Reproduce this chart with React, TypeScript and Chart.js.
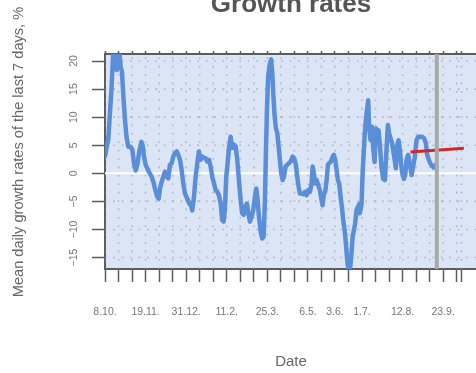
import React, { useEffect, useRef } from 'react';
import { Chart, registerables } from 'chart.js';

Chart.register(...registerables);

// Days since 8.10. (start of the x axis) and the read-off growth rates, %
const days = [
  0, 1.0, 2.1, 3.4, 5.2, 6.7, 8.6, 10.3, 12.1, 13.4, 14.8, 16.2, 17.6, 19.1, 20.7, 22.2, 24.1, 26.6, 28.3, 30.0,
  31.8, 33.4, 35.5, 37.6, 39.0, 40.3, 42.1, 44.2, 46.6, 48.3, 50.0, 51.7, 54.1, 55.6, 56.9, 58.7, 60.3, 62.1, 63.8, 65.5,
  67.2, 69.0, 70.7, 72.4, 74.2, 75.8, 77.6, 79.3, 81.0, 82.8, 85.1, 87.2, 89.0, 90.3, 92.1, 93.8, 95.5, 97.2, 99.0, 100.7,
  102.4, 104.2, 105.8, 107.6, 109.3, 111.0, 112.8, 114.5, 116.2, 117.9, 119.7, 121.3, 122.8, 124.1, 125.5, 126.9, 128.3, 130.0, 131.7, 133.5,
  135.2, 136.9, 138.6, 140.4, 142.0, 143.5, 145.1, 146.9, 148.3, 150.0, 151.8, 153.4, 155.2, 156.5, 158.0, 159.3, 161.1, 162.7, 164.2, 165.5,
  166.6, 167.6, 168.9, 170.7, 172.0, 173.3, 174.1, 175.6, 176.9, 178.2, 179.7, 181.0, 182.4, 183.8, 185.2, 186.9, 188.6, 190.3, 192.1, 194.2,
  195.8, 197.6, 198.9, 200.4, 201.7, 203.5, 205.1, 206.9, 208.6, 210.3, 212.1, 213.8, 214.9, 216.2, 217.6, 219.0, 220.7, 222.4, 224.2, 225.2,
  226.6, 227.9, 229.4, 230.7, 232.0, 233.8, 235.6, 236.9, 238.3, 239.7, 241.0, 242.4, 243.8, 245.2, 246.5, 248.0, 249.3, 250.7, 252.1, 253.5,
  254.8, 256.3, 257.6, 258.9, 260.4, 261.7, 263.1, 263.8, 265.5, 266.6, 267.9, 269.0, 270.7, 272.4, 273.4, 274.9, 276.2, 277.6, 279.0, 280.4,
  281.7, 283.1, 284.5, 286.2, 287.9, 289.7, 291.4, 292.8, 294.1, 295.6, 296.9, 298.2, 299.7, 301.0, 302.4, 303.8, 305.2, 306.5, 308.0, 309.3,
  310.7, 312.1, 313.8, 315.5, 317.3, 318.9, 320.7, 322.4, 324.1, 325.9, 328.2, 330.3, 332.1, 333.4, 335.2, 336.9, 338.6, 340.3, 342.1,
];
const growth = [
  3.0, 3.0, 5.0, 6.0, 11.0, 15.0, 22.0, 20.5, 18.4, 19.0, 21.8, 19.0, 18.0, 13.5, 9.5, 6.5, 4.75, 4.7, 4.2, 1.8,
  0.5, 1.5, 3.9, 5.6, 5.0, 3.0, 1.5, 0.7, -0.1, -0.6, -1.5, -2.7, -4.2, -4.5, -2.7, -1.5, -0.6, 0.3, -0.6, -0.9,
  1.5, 1.8, 3.0, 3.6, 3.9, 3.3, 2.4, 0.6, -1.8, -3.6, -4.5, -5.4, -5.7, -6.6, -4.2, -0.6, 1.8, 3.9, 2.4, 3.0,
  2.7, 2.7, 2.1, 2.4, 1.2, -0.6, -1.8, -3.0, -3.3, -3.9, -5.4, -8.3, -8.6, -6.3, -0.6, 1.8, 4.5, 6.5, 4.5, 5.1,
  4.8, 2.4, -1.2, -4.8, -7.1, -7.4, -6.0, -5.4, -7.1, -8.6, -7.7, -6.6, -4.2, -2.7, -4.8, -7.7, -10.4, -11.6, -11.3, -4.8,
  4.2, 11.3, 17.3, 19.6, 20.3, 17.5, 14.3, 10.1, 8.0, 7.3, 4.75, 2.4, 0, -1.2, -0.6, 1.2, 1.5, 1.8, 2.1, 3.0,
  2.7, 1.5, -0.6, -2.4, -3.6, -3.6, -3.7, -3.3, -3.9, -3.0, -3.3, -1.8, 1.2, -0.1, -1.8, -1.2, -2.1, -3.0, -4.8, -5.7,
  -3.6, -3.3, -1.2, 1.5, 1.8, 2.1, 3.0, 3.3, 2.4, 0.6, -1.2, -1.8, -4.2, -6.0, -8.3, -10.1, -12.5, -15.5, -17.3, -17.3,
  -14.9, -11.3, -10.1, -8.9, -6.5, -6.0, -5.5, -7.1, -5.5, 0, 4.2, 7.5, 10.7, 13.0, 8.0, 5.9, 8.3, 4.5, 2.0, 8.0,
  6.5, 7.7, 5.0, 1.0, -1.0, -1.2, 4.5, 8.6, 7.0, 6.2, 5.5, 4.2, 2.5, 0.9, 5.0, 5.9, 4.2, 1.5, -0.3, -1.0,
  -0.3, 2.4, 3.3, 1.5, -0.3, 1.2, 3.0, 5.9, 6.5, 6.5, 6.5, 6.2, 5.4, 3.3, 2.4, 1.7, 1.3, 1.0, 1.5,
];

// Trend (red) line
const forecastDays = [316.2, 371.4];
const forecastGrowth = [3.8, 4.46];

// Vertical grey marker (last data day)
const markerDay = 343.4;

// Axes
const xMin = 0;
const xMax = 385;
const yMin = -17.04;
const yMax = 21.25;
const xTickDays = [0, 14, 28, 42, 56, 70, 84, 98, 112, 126, 140, 154, 168, 182, 196, 210, 224, 238, 252, 266, 280, 294, 308, 322, 336, 350, 364, 369];
const xLabelDays = [0, 42, 84, 126, 168, 210, 238, 266, 308, 350];
const xLabels = ['8.10.', '19.11.', '31.12.', '11.2.', '25.3.', '6.5.', '3.6.', '1.7.', '12.8.', '23.9.'];
const yTicks = [-15, -10, -5, 0, 5, 10, 15, 20];

const titleText = 'Growth rates';
const yTitleText = 'Mean daily growth rates of the last 7 days, %';
const xTitleText = 'Date';

const FONT = '"Liberation Sans", Arial, Helvetica, sans-serif';
const AXIS_COLOR = '#5c5c5c';

const decorPlugin = {
  id: 'rdecor',
  beforeDraw(chart: any) {
    const { ctx, chartArea: a } = chart;
    ctx.save();
    ctx.fillStyle = '#dce5f5';
    ctx.fillRect(a.left, a.top, a.right - a.left, a.bottom - a.top);
    ctx.restore();
  },
  beforeDatasetsDraw(chart: any) {
    const { ctx, chartArea: a, scales } = chart;
    ctx.save();
    ctx.beginPath();
    ctx.rect(a.left, a.top, a.right - a.left, a.bottom - a.top);
    ctx.clip();
    ctx.strokeStyle = 'rgba(150,150,150,0.6)';
    ctx.lineWidth = 1.6;
    ctx.setLineDash([1.6, 6.8]);
    for (const d of xTickDays) {
      const x = scales.x.getPixelForValue(d);
      ctx.beginPath();
      ctx.moveTo(x, a.bottom);
      ctx.lineTo(x, a.top);
      ctx.stroke();
    }
    for (const v of yTicks) {
      if (v === 0) continue;
      const y = scales.y.getPixelForValue(v);
      ctx.beginPath();
      ctx.moveTo(a.left, y);
      ctx.lineTo(a.right, y);
      ctx.stroke();
    }
    ctx.setLineDash([]);
    const y0 = scales.y.getPixelForValue(0);
    ctx.strokeStyle = '#ffffff';
    ctx.lineWidth = 2;
    ctx.beginPath();
    ctx.moveTo(a.left, y0);
    ctx.lineTo(a.right, y0);
    ctx.stroke();
    ctx.restore();
  },
  afterDatasetsDraw(chart: any) {
    const { ctx, chartArea: a, scales } = chart;
    const x = scales.x.getPixelForValue(markerDay);
    ctx.save();
    ctx.strokeStyle = '#a9a9a9';
    ctx.lineWidth = 4;
    ctx.beginPath();
    ctx.moveTo(x, a.top);
    ctx.lineTo(x, a.bottom);
    ctx.stroke();
    ctx.restore();
  },
  afterDraw(chart: any) {
    const { ctx, chartArea: a, scales } = chart;
    const cx = (a.left + a.right) / 2;
    ctx.save();
    // title
    ctx.fillStyle = '#555555';
    ctx.font = `bold 26px ${FONT}`;
    ctx.textAlign = 'center';
    ctx.textBaseline = 'alphabetic';
    ctx.fillText(titleText, cx, 12);
    // x title
    ctx.fillStyle = '#666666';
    ctx.font = `15px ${FONT}`;
    ctx.fillText(xTitleText, cx, 366);
    // y title
    ctx.save();
    ctx.font = `14.6px ${FONT}`;
    ctx.translate(23.4, 152);
    ctx.rotate(-Math.PI / 2);
    ctx.fillText(yTitleText, 0, 0);
    ctx.restore();
    // y tick labels (rotated, R style)
    ctx.fillStyle = '#777777';
    ctx.font = `10.5px ${FONT}`;
    for (const v of yTicks) {
      const y = scales.y.getPixelForValue(v);
      ctx.save();
      ctx.translate(76.5, y);
      ctx.rotate(-Math.PI / 2);
      ctx.fillText(v < 0 ? '\u2212' + Math.abs(v) : String(v), 0, 0);
      ctx.restore();
    }
    ctx.restore();
  },
};

export default function App() {
  const ref = useRef<HTMLCanvasElement>(null);
  useEffect(() => {
    document.body.style.margin = '0';
    const canvas = ref.current;
    if (!canvas) return;
    const lineData = days.map((d, i) => ({ x: d, y: growth[i] }));
    const fcData = forecastDays.map((d, i) => ({ x: d, y: forecastGrowth[i] }));
    const tickSetter = (s: any) => {
      s.ticks = xTickDays.map((v) => ({ value: v }));
    };
    const chart = new Chart(canvas, {
      type: 'line',
      data: {
        datasets: [
          {
            data: fcData,
            borderColor: '#d02828',
            borderWidth: 3,
            pointRadius: 0,
            xAxisID: 'x',
            yAxisID: 'y',
            order: 1,
          },
          {
            data: lineData,
            borderColor: '#5b8ed8',
            borderWidth: 4.5,
            pointRadius: 0,
            tension: 0,
            borderJoinStyle: 'round',
            borderCapStyle: 'round',
            xAxisID: 'x',
            yAxisID: 'y',
            order: 2,
          },
        ],
      },
      options: {
        responsive: false,
        devicePixelRatio: 1,
        animation: false,
        events: [],
        layout: { padding: { left: 0, right: 13, top: 51, bottom: 0 } },
        plugins: { legend: { display: false }, tooltip: { enabled: false }, title: { display: false } },
        scales: {
          x: {
            type: 'linear',
            position: 'bottom',
            min: xMin,
            max: xMax,
            afterBuildTicks: tickSetter,
            afterFit: (s: any) => {
              s.height = 104;
            },
            grid: {
              drawOnChartArea: false,
              drawTicks: true,
              tickLength: 13,
              tickColor: AXIS_COLOR,
              tickWidth: 1.5,
              tickBorderDash: [],
            },
            border: { display: true, color: AXIS_COLOR, width: 2 },
            ticks: {
              autoSkip: false,
              maxRotation: 0,
              minRotation: 0,
              padding: 24,
              color: '#777777',
              font: { family: FONT, size: 10.5 },
              callback: (v: any) => {
                const i = xLabelDays.indexOf(Number(v));
                return i >= 0 ? xLabels[i] : '';
              },
            },
          },
          xTop: {
            type: 'linear',
            position: 'top',
            min: xMin,
            max: xMax,
            afterBuildTicks: tickSetter,
            afterFit: (s: any) => {
              s.height = 3;
            },
            grid: {
              drawOnChartArea: false,
              drawTicks: true,
              tickLength: 3,
              tickColor: AXIS_COLOR,
              tickWidth: 1.5,
              tickBorderDash: [],
            },
            border: { display: true, color: AXIS_COLOR, width: 2 },
            ticks: { display: false },
          },
          y: {
            type: 'linear',
            position: 'left',
            min: yMin,
            max: yMax,
            afterBuildTicks: (s: any) => {
              s.ticks = yTicks.map((v) => ({ value: v }));
            },
            afterFit: (s: any) => {
              s.width = 105;
            },
            grid: {
              drawOnChartArea: false,
              drawTicks: true,
              tickLength: 13,
              tickColor: AXIS_COLOR,
              tickWidth: 1.5,
              tickBorderDash: [],
            },
            border: { display: true, color: AXIS_COLOR, width: 2 },
            ticks: { display: false },
          },
        },
      },
      plugins: [decorPlugin],
    } as any);
    return () => chart.destroy();
  }, []);
  return (
    <div style={{ position: 'fixed', left: 0, top: 0, width: 476, height: 373, overflow: 'hidden', background: '#ffffff' }}>
      <canvas ref={ref} width={490} height={373} style={{ display: 'block', width: 490, height: 373 }} />
    </div>
  );
}
